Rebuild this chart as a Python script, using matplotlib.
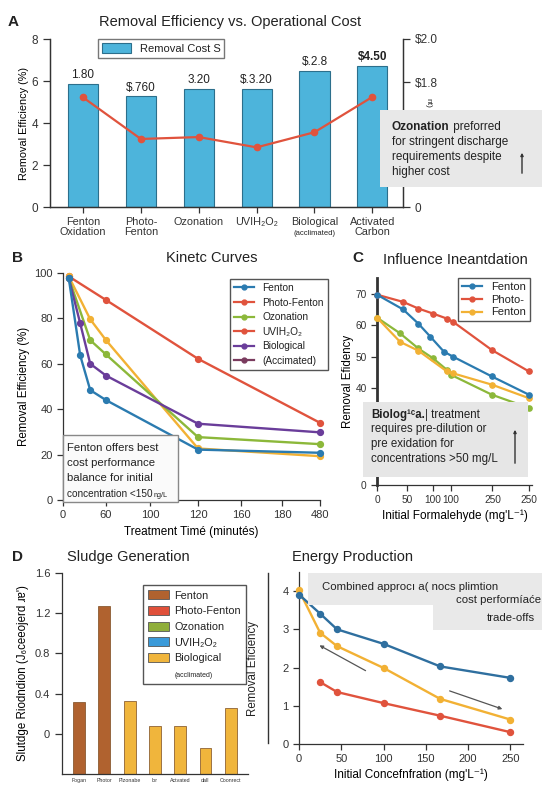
import numpy as np
import matplotlib
matplotlib.use('Agg')
import matplotlib.pyplot as plt
from matplotlib.patches import Rectangle, Patch, FancyArrowPatch
from matplotlib.lines import Line2D

plt.rcParams['font.family'] = ['Liberation Sans', 'DejaVu Sans']
plt.rcParams['axes.linewidth'] = 0.9
plt.rcParams['xtick.major.width'] = 0.9
plt.rcParams['ytick.major.width'] = 0.9
plt.rcParams['text.color'] = '#222222'
plt.rcParams['xtick.color'] = '#333333'
plt.rcParams['ytick.color'] = '#333333'
plt.rcParams['axes.edgecolor'] = '#333333'

# ---------------- data ----------------
# Panel A
a_methods = ['Fenton\nOxidation', 'Photo-\nFenton', 'Ozonation', 'UVIH₂O₂', 'Biological', 'Activated\nCarbon']
a_efficiency = [5.87, 5.27, 5.62, 5.62, 6.49, 6.73]
a_cost = [5.22, 3.24, 3.33, 2.84, 3.56, 5.24]
a_bar_labels = ['1.80', r'\$.760', '3.20', r'\$.3.20', r'\$.2.8', r'\$4.50']
a_left_ticks = [0, 2, 4, 6, 8]
a_right_ticks = [0, 5.95, 8]
a_right_labels = ['0', r'\$1.8', r'\$2.0']

# Panel B
b_tick_vals = [0, 60, 100, 120, 160, 180, 480]
b_tick_pos = [0, 43, 87, 135, 178, 219, 257]
b_names = ['Fenton', 'Photo-Fenton', 'Ozonation', 'UVIH₂O₂', 'Biological', '(Accimated)']
b_fenton_t = [8, 24, 38, 60, 120, 480]
b_fenton_v = [97.8, 63.7, 48.4, 44.0, 22.2, 20.8]
b_photo_t = [8, 60, 120, 480]
b_photo_v = [98.5, 88.1, 62.2, 34.0]
b_ozon_t = [8, 38, 60, 120, 480]
b_ozon_v = [97.8, 70.4, 64.1, 27.7, 24.6]
b_uv_t = [8, 38, 60, 120, 480]
b_uv_v = [98.5, 79.6, 70.4, 22.7, 19.3]
b_bio_t = [8, 24, 38, 60, 120, 480]
b_bio_v = [97.8, 77.8, 60.0, 54.8, 33.6, 29.8]

# Panel C
c_xticks = [0, 50, 92, 122, 190, 250]
c_xlabels = ['0', '50', '100', '100', '250', '250']
c_yticks = [9.2, 40, 50, 60, 70]
c_ylabels = ['0', '40', '50', '60', '70']
c_photo_x = [0, 43, 68, 92, 115, 125, 189, 250]
c_photo_v = [69.7, 67.4, 65.3, 63.7, 62.1, 61.1, 52.1, 45.3]
c_fenton_x = [0, 43, 68, 88, 110, 125, 189, 250]
c_fenton_v = [69.7, 65.0, 60.5, 56.3, 51.6, 50.0, 43.7, 37.9]
c_green_x = [0, 38, 68, 92, 115, 122, 189, 250]
c_green_v = [62.4, 57.4, 52.6, 49.5, 45.8, 44.2, 37.9, 33.7]
c_yellow_x = [0, 38, 68, 115, 125, 189, 250]
c_yellow_v = [62.4, 54.7, 51.9, 45.3, 44.7, 41.1, 36.8]

# Panel D
d_labels = ['Fogan', 'Photor', 'Plzonabe', 'lor', 'Actvated', 'dall', 'Coonrect']
d_values = [0.32, 1.27, 0.33, 0.073, 0.073, -0.143, 0.257]
d_base = -0.4
d_legend = ['Fenton', 'Photo-Fenton', 'Ozonation', 'UVIH₂O₂', 'Biological', '(acclimated)']

# Panel E
e_blue_x = [0, 25, 45, 100, 167, 250]
e_blue_y = [3.91, 3.41, 3.00, 2.62, 2.03, 1.73]
e_yellow_x = [0, 25, 45, 100, 167, 250]
e_yellow_y = [4.02, 2.91, 2.56, 1.99, 1.18, 0.64]
e_red_x = [25, 45, 100, 167, 250]
e_red_y = [1.62, 1.36, 1.07, 0.74, 0.31]

# ---------------- colours ----------------
BAR = '#4DB4DB'
BAR_EDGE = '#2C6F8C'
RED = '#E0533D'
BLUE = '#2B7BB0'
GREEN = '#8CB83A'
YELLOW = '#F2B134'
PURPLE = '#6A3D9A'
MAROON = '#7A3B5E'
BROWN = '#B0622F'
GOLD = '#F0B53C'

W, H = 542, 787
fig = plt.figure(figsize=(W / 100, H / 100), dpi=100)
fig.patch.set_facecolor('white')
renderer = fig.canvas.get_renderer()


def rect(l, t, r, b):
    return [l / W, 1 - b / H, (r - l) / W, (b - t) / H]


def fx(x):
    return x / W


def fy(y):
    return 1 - y / H


def ftext(x, y, s, **kw):
    return fig.text(fx(x), fy(y), s, **kw)


def ftext_after(t, y, s, gap=0, **kw):
    ext = t.get_window_extent(renderer=renderer)
    return fig.text((ext.x1 + gap) / W, fy(y), s, **kw)


def fbox(l, t, r, b, fc='#E8E8E8', ec='none', lw=0.8, z=5):
    fig.add_artist(Rectangle((fx(l), fy(b)), (r - l) / W, (b - t) / H,
                             transform=fig.transFigure, facecolor=fc,
                             edgecolor=ec, linewidth=lw, zorder=z))


def fline(x0, y0, x1, y1, color='#444444', lw=1.0, z=6):
    fig.add_artist(Line2D([fx(x0), fx(x1)], [fy(y0), fy(y1)],
                          transform=fig.transFigure, color=color, lw=lw, zorder=z))


def farrow(x0, y0, x1, y1, color='#555555', lw=1.0, z=7, ms=6):
    fig.add_artist(FancyArrowPatch((fx(x0), fy(y0)), (fx(x1), fy(y1)),
                                   transform=fig.transFigure, arrowstyle='-|>',
                                   mutation_scale=ms, color=color, lw=lw, zorder=z))


TITLE = 10.5
TICK = 8

# ================= Panel A =================
axA = fig.add_axes(rect(50, 39, 403, 207))
xa = np.arange(len(a_methods))
axA.bar(xa, a_efficiency, width=0.52, color=BAR, edgecolor=BAR_EDGE,
        linewidth=0.8, label='Removal Cost S', zorder=2)
for xi, v, lab in zip(xa, a_efficiency, a_bar_labels):
    axA.text(xi, v + 0.12, lab, ha='center', va='bottom', fontsize=8.5,
             fontweight='bold' if lab.endswith('4.50') else 'normal', color='#222222')
axA.plot(xa, a_cost, color=RED, lw=1.6, marker='o', ms=4.5, zorder=4)
axA.set_xlim(-0.57, 5.53)
axA.set_ylim(0, 8)
axA.set_yticks(a_left_ticks)
axA.tick_params(axis='y', labelsize=TICK + 0.5, length=5)
axA.set_xticks(xa)
axA.set_xticklabels(a_methods, fontsize=7.8, linespacing=1.05)
axA.tick_params(axis='x', length=4, pad=3)
axA.spines['top'].set_visible(False)
axA.set_ylabel('Removal Efficiency (%)', fontsize=7.8, labelpad=2)
axA2 = axA.twinx()
axA2.set_ylim(0, 8)
axA2.set_yticks(a_right_ticks)
axA2.set_yticklabels(a_right_labels, fontsize=TICK + 0.5)
axA2.tick_params(axis='y', length=5)
axA2.spines['top'].set_visible(False)
axA.legend(loc='upper left', bbox_to_anchor=(0.136, 1.0), borderaxespad=0,
           fontsize=8, frameon=True, fancybox=False, edgecolor='#555555',
           handlelength=2.6, handleheight=1.0, borderpad=0.35)
axA.annotate('(acclimated)', xy=(4, 0), xycoords='data', xytext=(0, -16.5),
             textcoords='offset points', ha='center', va='top', fontsize=5.5,
             annotation_clip=False)
ftext(8, 22, 'A', fontsize=11, fontweight='bold', va='center')
ftext(230, 22, 'Removal Efficiency vs. Operational Cost', fontsize=TITLE, ha='center', va='center')
ftext(428, 103, 'nt)', fontsize=6, rotation=270, ha='center', va='center')
# annotation box
fbox(380, 110, 542, 187, fc='#E8E8E8')
t1 = ftext(392, 127, 'Ozonation', fontsize=8.5, fontweight='bold', va='center', zorder=8)
ftext_after(t1, 127, ' preforred', fontsize=8.5, va='center', zorder=8)
ftext(392, 142, 'for stringent discharge', fontsize=8.5, va='center', zorder=8)
ftext(392, 157, 'requirements despite', fontsize=8.5, va='center', zorder=8)
ftext(392, 172, 'higher cost', fontsize=8.5, va='center', zorder=8)
farrow(522, 176, 522, 150, color='#333333', lw=1.0, ms=4)

# ================= Panel B =================
axB = fig.add_axes(rect(63, 273, 320, 500))
fwd = lambda t: np.interp(t, b_tick_vals, b_tick_pos)
inv = lambda p: np.interp(p, b_tick_pos, b_tick_vals)
axB.set_xscale('function', functions=(fwd, inv))
kw = dict(lw=1.7, marker='o', ms=4.2, clip_on=False)
axB.plot(b_photo_t, b_photo_v, color=RED, zorder=3, **kw)
axB.plot(b_uv_t, b_uv_v, color=YELLOW, zorder=3, **kw)
axB.plot(b_ozon_t, b_ozon_v, color=GREEN, zorder=3, **kw)
axB.plot(b_bio_t, b_bio_v, color=PURPLE, zorder=3, **kw)
axB.plot(b_fenton_t, b_fenton_v, color=BLUE, zorder=3, **kw)
axB.set_xlim(0, 480)
axB.set_ylim(0, 100)
axB.set_xticks(b_tick_vals)
axB.set_xticklabels([str(v) for v in b_tick_vals], fontsize=TICK)
axB.set_yticks([0, 20, 40, 60, 80, 100])
axB.tick_params(labelsize=TICK, length=4)
axB.spines['top'].set_visible(False)
axB.spines['right'].set_visible(False)
axB.set_ylabel('Removal Efficiency (%)', fontsize=8.3, labelpad=3)
axB.set_xlabel('Treatment Timé (minutés)', fontsize=8.5, labelpad=4)
b_colors = [BLUE, RED, GREEN, RED, PURPLE, MAROON]
handles = [Line2D([], [], color=c, lw=1.6, marker='o', ms=3.5) for c in b_colors]
axB.legend(handles, b_names, loc='upper right', bbox_to_anchor=(1.03, 0.974),
           borderaxespad=0, fontsize=7.3, fancybox=False, edgecolor='#555555',
           framealpha=1, labelspacing=0.45, handlelength=2.0, borderpad=0.4)
ftext(12, 258, 'B', fontsize=11, fontweight='bold', va='center')
ftext(212, 258, 'Kinetc Curves', fontsize=TITLE, ha='center', va='center')
fbox(63, 435, 178, 502, fc='#FAFAFA', ec='#888888', lw=1.0)
for i, s in enumerate(['Fenton offers best', 'cost performance', 'balance for initial']):
    ftext(67, 448 + 15 * i, s, fontsize=8.2, va='center', zorder=8)
t2 = ftext(67, 494, 'concentration <150', fontsize=7.2, va='center', zorder=8)
ftext_after(t2, 495, 'ng/L', gap=1, fontsize=5.2, va='center', zorder=8)

# ================= Panel C =================
axC = fig.add_axes(rect(377, 278, 532, 485))
kwc = dict(lw=1.6, marker='o', ms=3.8, clip_on=False)
axC.plot(c_green_x, c_green_v, color=GREEN, zorder=3, **kwc)
axC.plot(c_yellow_x, c_yellow_v, color=YELLOW, zorder=3, **kwc)
axC.plot(c_photo_x, c_photo_v, color=RED, zorder=3, **kwc)
axC.plot(c_fenton_x, c_fenton_v, color=BLUE, zorder=3, **kwc)
axC.set_xlim(0, 255)
axC.set_ylim(9.2, 75)
axC.set_xticks(c_xticks)
axC.set_xticklabels(c_xlabels, fontsize=7.3)
axC.set_yticks(c_yticks)
axC.set_yticklabels(c_ylabels, fontsize=7.3)
axC.tick_params(length=4)
axC.spines['top'].set_visible(False)
axC.spines['right'].set_visible(False)
axC.spines['left'].set_linewidth(2.0)
axC.set_ylabel('Removal Efidency', fontsize=8.3, labelpad=1)
axC.set_xlabel("Initial Formalehyde (mg'L⁻¹)", fontsize=8.5, labelpad=3)
hC = [Line2D([], [], color=c, lw=1.6, marker='o', ms=3.5) for c in [BLUE, RED, YELLOW]]
axC.legend(hC, ['Fenton', 'Photo-', 'Fenton'], loc='upper right', bbox_to_anchor=(0.987, 1.0),
           borderaxespad=0, fontsize=8, fancybox=False, edgecolor='#555555',
           framealpha=1, labelspacing=0.25, handlelength=1.8, borderpad=0.35)
ftext(352, 258, 'C', fontsize=11, fontweight='bold', va='center')
ftext(455, 260, 'Influence Ineantdation', fontsize=TITLE, ha='center', va='center')
fbox(363, 402, 528, 477, fc='#E6E6E6')
t3 = ftext(371, 415, 'Biolog¹ᶜa.', fontsize=8.3, fontweight='bold', va='center', zorder=8)
ftext_after(t3, 415, '| treatment', fontsize=8.3, va='center', zorder=8)
ftext(371, 429, 'requires pre-dilution or', fontsize=8.3, va='center', zorder=8)
ftext(371, 444, 'pre exidation for', fontsize=8.3, va='center', zorder=8)
ftext(371, 459, 'concentrations >50 mg/L', fontsize=8.3, va='center', zorder=8)
farrow(515, 466, 515, 427, color='#333333', lw=1.0, ms=4)

# ================= Panel D =================
axD = fig.add_axes(rect(62, 573, 248, 774))
xd = np.arange(len(d_labels))
d_colors = [BROWN, BROWN, GOLD, GOLD, GOLD, GOLD, GOLD]
axD.bar(xd, np.array(d_values) - d_base, bottom=d_base, width=0.47,
        color=d_colors, edgecolor='#7A4A1E', linewidth=0.5, zorder=2)
axD.set_xlim(-0.67, 6.68)
axD.set_ylim(d_base, 1.6)
axD.set_yticks([0, 0.4, 0.8, 1.2, 1.6])
axD.set_yticklabels(['0', '0.4', '0.8', '1.2', '1.6'], fontsize=TICK)
axD.set_xticks(xd)
axD.set_xticklabels(d_labels, fontsize=3.8)
axD.tick_params(axis='x', length=0, pad=3)
axD.tick_params(axis='y', length=5)
axD.spines['top'].set_visible(False)
axD.spines['right'].set_visible(False)
axD.set_ylabel("Slutdge Riodndion (J₆ceeojerd ɹɐ')", fontsize=8.3, labelpad=4)
d_leg_colors = [BROWN, '#E0503A', '#8FAE3A', '#3A9AD9', GOLD]
hD = [Patch(facecolor=c, edgecolor='#555555', linewidth=0.6) for c in d_leg_colors]
hD.append(Patch(facecolor='none', edgecolor='none'))
legD = axD.legend(hD, d_legend, loc='upper left', bbox_to_anchor=(0.435, 0.94),
                  borderaxespad=0, fontsize=7.8, fancybox=False, edgecolor='#555555',
                  framealpha=1, labelspacing=0.5, handlelength=1.9, handleheight=0.9,
                  handletextpad=0.5, borderpad=0.5)
legD.get_texts()[-1].set_fontsize(5)
ftext(12, 557, 'D', fontsize=11, fontweight='bold', va='center')
ftext(128, 557, 'Sludge Generation', fontsize=TITLE, ha='center', va='center')

# ================= Panel E =================
axE = fig.add_axes(rect(299, 572, 523, 744))
kwe = dict(lw=1.7, marker='o', ms=4.3, clip_on=False, zorder=3)
axE.plot(e_red_x, e_red_y, color=RED, **kwe)
axE.plot(e_yellow_x, e_yellow_y, color=YELLOW, **kwe)
axE.plot(e_blue_x, e_blue_y, color='#2F6F9F', **kwe)
axE.set_xlim(0, 265)
axE.set_ylim(0, 4.5)
axE.set_xticks([0, 50, 100, 150, 200, 250])
axE.set_yticks([0, 1, 2, 3, 4])
axE.tick_params(labelsize=TICK, length=4)
axE.spines['top'].set_visible(False)
axE.spines['right'].set_visible(False)
axE.set_xlabel("Initial Concefnfration (mg'L⁻¹)", fontsize=8.5, labelpad=3)
ftext(253, 668, 'Removal Eficiency', fontsize=8.3, rotation=90, ha='center', va='center')
fline(268, 573, 268, 743, color='#333333', lw=1.0)
ftext(353, 557, 'Energy Production', fontsize=TITLE, ha='center', va='center')
fbox(308, 573, 542, 605, fc='#E9E9E9', z=2)
fbox(433, 605, 542, 630, fc='#E9E9E9', z=2)
ftext(322, 587, 'Combined approcı a( nocs plimtion', fontsize=8.2, va='center', zorder=8)
ftext(541, 600, 'cost performíaće', fontsize=8.2, ha='right', va='center', zorder=8)
ftext(535, 618, 'trade-offs', fontsize=8.2, ha='right', va='center', zorder=8)
farrow(368, 672, 317, 644, color='#555555', lw=0.9, ms=5)
farrow(447, 690, 505, 710, color='#555555', lw=0.9, ms=5)

fig.savefig('out.png', dpi=100, facecolor='white')
